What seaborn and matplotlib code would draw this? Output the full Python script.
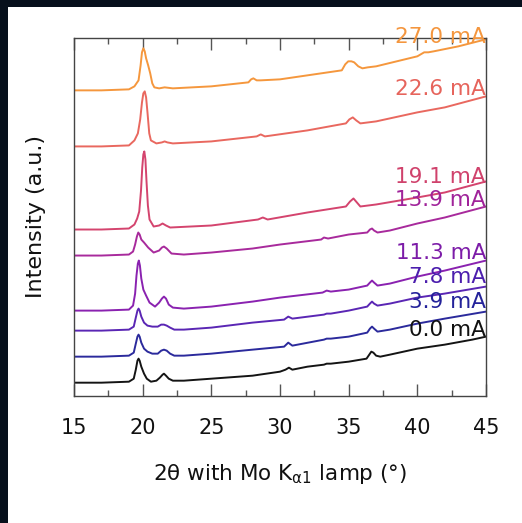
import matplotlib
matplotlib.use("Agg")
import matplotlib.pyplot as plt
from matplotlib.patches import Rectangle
from matplotlib.ticker import MultipleLocator
import pandas as pd
import seaborn as sns

# Diffraction patterns (2theta in degrees, intensity in arbitrary units, stacked)
theta_000 = [15, 17, 19.0, 19.35, 19.5, 19.62, 19.7, 19.78, 19.9, 20.1, 20.3, 20.6, 21.0, 21.25, 21.45, 21.55,
             21.7, 21.9, 22.2, 23, 25, 28, 30, 30.4, 30.65, 30.9, 32, 33.2, 33.4, 33.7, 35, 36.3, 36.5,
             36.65, 36.8, 37.0, 37.3, 38, 40, 42, 44, 45]
int_000 = [13, 13, 14, 17, 26, 35, 37, 35, 29, 22, 17, 14, 15, 18, 21, 22,
           20, 17, 15, 15, 17, 20, 24, 26, 28, 26, 29, 31, 32, 32, 34, 37, 41,
           44, 43, 40, 39, 41, 47, 51, 56, 59]

theta_039 = [15, 17, 19.0, 19.35, 19.5, 19.62, 19.7, 19.78, 19.9, 20.1, 20.35, 20.7, 21.1, 21.35, 21.55, 21.75,
             22.0, 22.3, 23, 25, 28, 30.3, 30.6, 30.9, 33.2, 33.4, 33.7, 35, 36.35, 36.55, 36.7, 36.85,
             37.1, 38, 40, 42, 45]
int_039 = [39, 39, 40, 43, 52, 59, 61, 59, 53, 47, 44, 42, 42, 45, 46, 45,
           42, 40, 40, 42, 46, 49, 53, 50, 56, 57, 57, 59, 63, 67, 69, 67,
           64, 66, 72, 77, 84]

theta_078 = [15, 17, 19.0, 19.35, 19.5, 19.62, 19.7, 19.78, 19.9, 20.1, 20.35, 20.7, 21.1, 21.35, 21.55, 21.75,
             22.0, 22.3, 23, 25, 28, 30.3, 30.6, 30.9, 33.2, 33.4, 33.7, 35, 36.35, 36.55, 36.7, 36.85,
             37.1, 38, 40, 42, 45]
int_078 = [65, 65, 66, 69, 78, 85, 87, 85, 79, 73, 70, 69, 69, 71, 71, 70,
           68, 66, 66, 68, 73, 76, 79, 77, 81, 82, 82, 85, 89, 92, 94, 92,
           90, 92, 98, 102, 109]

theta_113 = [15, 17, 19.0, 19.3, 19.45, 19.55, 19.65, 19.72, 19.8, 19.9, 20.05, 20.25, 20.5, 20.9, 21.2, 21.4,
             21.55, 21.7, 21.9, 22.2, 23, 25, 28, 30, 33.1, 33.4, 33.7, 35, 36.35, 36.55, 36.7, 36.85,
             37.1, 38, 40, 42, 45]
int_113 = [85, 85, 86, 90, 102, 120, 132, 135, 130, 117, 106, 100, 93, 89, 93, 97,
           99, 97, 91, 88, 87, 89, 94, 98, 103, 105, 104, 106, 110, 113, 115, 113,
           110, 112, 119, 125, 135]

theta_139 = [15, 17, 19.0, 19.3, 19.45, 19.58, 19.68, 19.78, 19.9, 20.1, 20.4, 20.8, 21.2, 21.4, 21.55, 21.75,
             22.1, 23, 25, 28, 30, 33.0, 33.2, 33.5, 35, 36.35, 36.55, 36.7, 36.85, 37.1, 38, 40, 42, 45]
int_139 = [140, 140, 141, 144, 151, 159, 163, 161, 156, 153, 148, 143, 145, 148, 149, 147,
           142, 141, 143, 147, 151, 156, 158, 157, 161, 163, 166, 167, 165, 163, 165, 172, 178, 189]

theta_191 = [15, 17, 19.0, 19.4, 19.6, 19.75, 19.88, 19.97, 20.05, 20.12, 20.2, 20.28, 20.38, 20.5, 20.8, 21.2,
             21.45, 21.7, 22.0, 25, 28.4, 28.75, 29.1, 32, 34.8, 35.1, 35.35, 35.6, 35.85, 37, 40, 42, 45]
int_191 = [166, 166, 167, 171, 177, 184, 205, 228, 241, 244, 236, 214, 190, 176, 169, 170,
           172, 170, 168, 170, 176, 178, 176, 183, 189, 194, 197, 193, 189, 191, 198, 203, 214]

theta_226 = [15, 17, 19.0, 19.4, 19.65, 19.82, 19.95, 20.05, 20.15, 20.25, 20.35, 20.48, 20.6, 21.0, 21.4,
             21.6, 21.8, 22.2, 25, 28.3, 28.6, 28.9, 32, 34.8, 35.05, 35.3, 35.55, 35.85, 37, 40, 42, 45]
int_226 = [249, 249, 250, 255, 262, 276, 293, 302, 304, 298, 283, 262, 255, 252, 253,
           254, 253, 252, 254, 259, 261, 259, 265, 272, 276, 278, 275, 272, 274, 283, 288, 299]

theta_270 = [15, 17, 19.0, 19.4, 19.7, 19.85, 19.95, 20.05, 20.15, 20.25, 20.4, 20.55, 20.7, 20.85, 21.2, 21.6,
             22.2, 25, 27.7, 27.9, 28.06, 28.3, 28.6, 30, 32, 34.5, 34.75, 34.97, 35.2, 35.4, 35.7, 36.0,
             36.4, 37, 40.0, 40.5, 40.8, 41.2, 43, 45]
int_270 = [305, 305, 306, 309, 315, 330, 343, 347, 344, 337, 330, 322, 312, 308, 307, 308,
           307, 309, 313, 316, 317, 315, 315, 316, 320, 325, 331, 334, 334, 333, 329, 327,
           328, 329, 339, 343, 343, 344, 349, 356]

currents = ["0.0 mA", "3.9 mA", "7.8 mA", "11.3 mA", "13.9 mA", "19.1 mA", "22.6 mA", "27.0 mA"]
thetas = [theta_000, theta_039, theta_078, theta_113, theta_139, theta_191, theta_226, theta_270]
intensities = [int_000, int_039, int_078, int_113, int_139, int_191, int_226, int_270]
line_colors = ["#141414", "#2b2a9c", "#5a26b4", "#8a22b0", "#a82a9c", "#d4446e", "#e9685f", "#f5973d"]
text_colors = ["#111111", "#24229a", "#4c1eae", "#7c1ca8", "#a0239a", "#d0426c", "#e6645c", "#f4963e"]
label_levels = [66, 94, 119, 143, 195, 218, 306, 358]

frames = [pd.DataFrame({"theta": t, "intensity": i, "current": c})
          for t, i, c in zip(thetas, intensities, currents)]
data = pd.concat(frames, ignore_index=True)

sns.set_style("white")
plt.rcParams["font.family"] = ["DejaVu Sans"]
plt.rcParams["mathtext.fontset"] = "dejavusans"

fig = plt.figure(figsize=(5.22, 5.23), dpi=100)
fig.patch.set_facecolor("#07101c")
fig.patches.append(Rectangle((8 / 522, 0), 1 - 8 / 522, (523 - 7) / 523,
                             transform=fig.transFigure, facecolor="white",
                             edgecolor="none", zorder=-10))

ax = fig.add_axes([74 / 522, 1 - 395.7 / 523, 412 / 522, 357.4 / 523])
ax.set_facecolor("white")

sns.lineplot(data=data, x="theta", y="intensity", hue="current",
             hue_order=currents, palette=dict(zip(currents, line_colors)),
             estimator=None, sort=True, linewidth=1.4, legend=False, ax=ax)
for line in ax.lines:
    line.set_solid_joinstyle("round")

for cur, lvl, col in zip(currents, label_levels, text_colors):
    ax.text(45, lvl, cur, ha="right", va="center", fontsize=15.5, color=col,
            clip_on=False, zorder=10)

ax.set_xlim(15, 45)
ax.set_ylim(0, 357)
ax.xaxis.set_major_locator(MultipleLocator(5))
ax.xaxis.set_minor_locator(MultipleLocator(2.5))
ax.set_yticks([])
ax.tick_params(axis="x", which="both", direction="in", top=True, bottom=True,
               color="#555555", width=1.0)
ax.tick_params(axis="x", which="major", length=8.5, pad=16, labelsize=15, labelcolor="#111111")
ax.tick_params(axis="x", which="minor", length=4.3)
for s in ax.spines.values():
    s.set_color("#444444")
    s.set_linewidth(1.0)

ax.set_xlabel(r"2θ with Mo K$_{\mathregular{\alpha1}}$ lamp (°)", fontsize=15.5,
              color="#111111", labelpad=17)
ax.set_ylabel("Intensity (a.u.)", fontsize=16, color="#111111")
ax.yaxis.set_label_coords(-0.092, 0.5)
ax.yaxis.label.set_va("center")

fig.savefig("out.png", dpi=100, facecolor=fig.get_facecolor())
